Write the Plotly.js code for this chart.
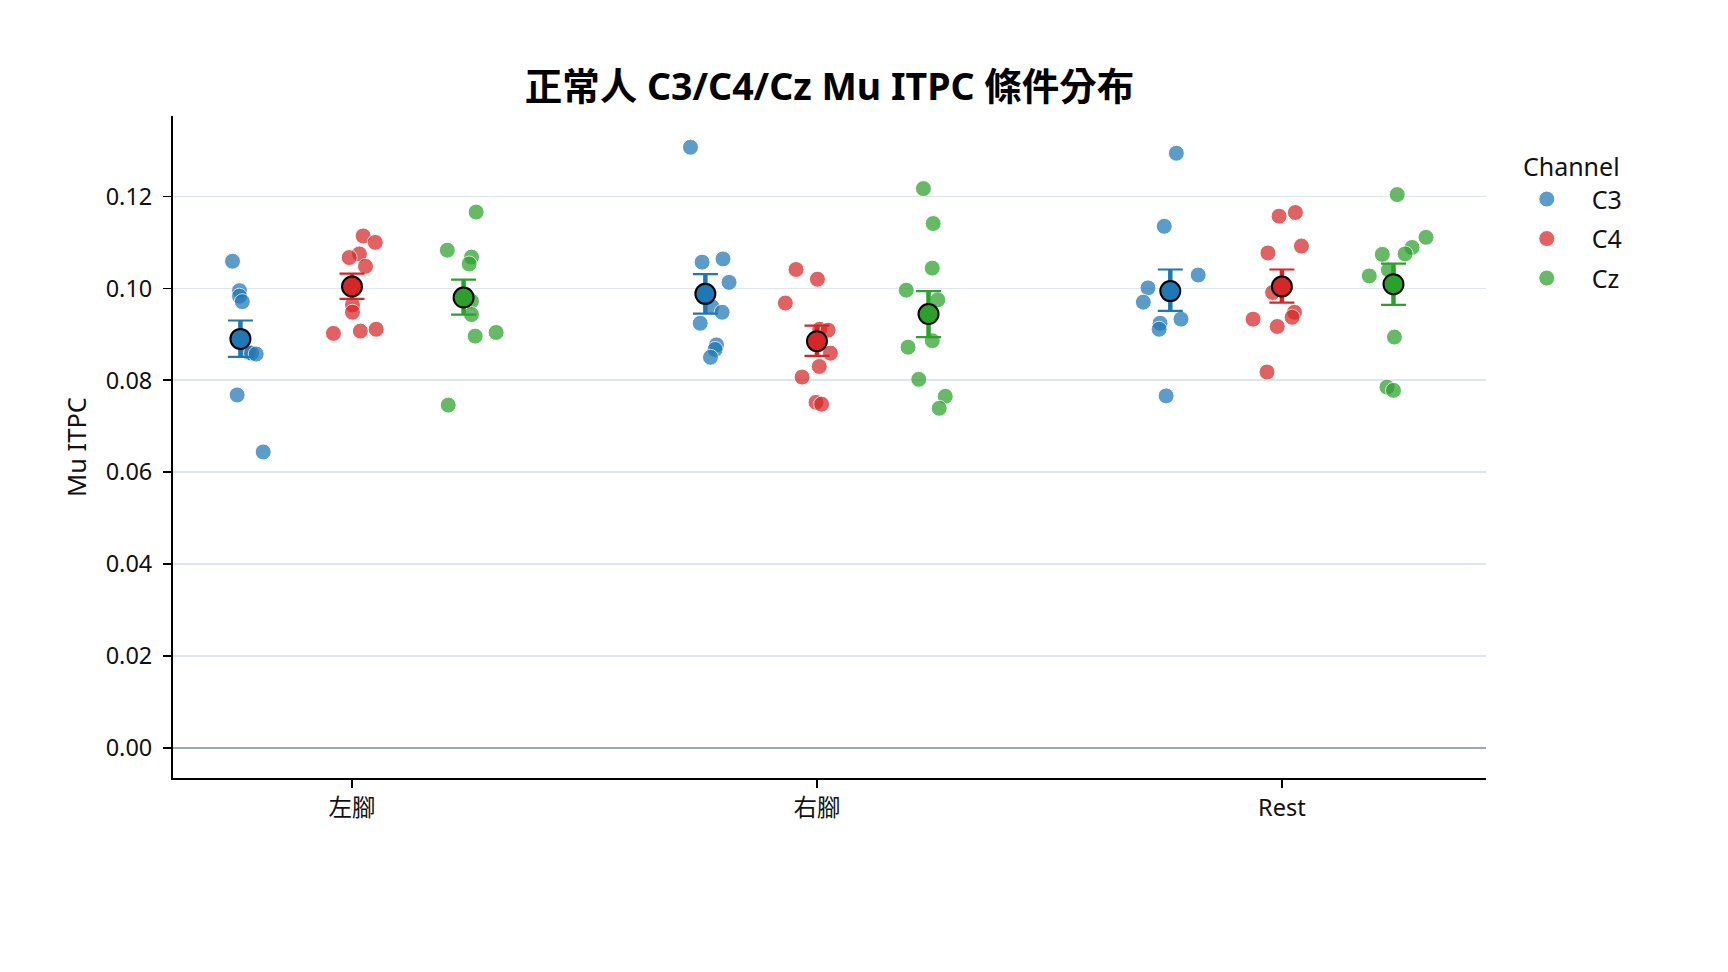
<!DOCTYPE html>
<html>
<head>
<meta charset="utf-8">
<script src="https://cdn.plot.ly/plotly-3.0.1.min.js"></script>
<style>
  html, body { margin: 0; padding: 0; background: #fff; }
  #plot { width: 1728px; height: 972px; }
</style>
</head>
<body>
<div id="plot"></div>
<script>
// categories
const conditions = ['左腳', '右腳', 'Rest'];
const channels = ['C3', 'C4', 'Cz'];

// per-subject values
const c3Left = [0.1059, 0.0995, 0.0983, 0.0971, 0.0861, 0.0859, 0.0857, 0.0768, 0.0644];
const c4Left = [0.1114, 0.1100, 0.1075, 0.1067, 0.1048, 0.0964, 0.0948, 0.0902, 0.0907, 0.0911];
const czLeft = [0.1166, 0.1083, 0.1068, 0.1053, 0.0972, 0.0943, 0.0896, 0.0904, 0.0746];

const c3Right = [0.1307, 0.1057, 0.1064, 0.1013, 0.0960, 0.0948, 0.0924, 0.0877, 0.0867, 0.0850];
const c4Right = [0.1041, 0.1020, 0.0968, 0.0911, 0.0909, 0.0859, 0.0830, 0.0807, 0.0752, 0.0748];
const czRight = [0.1217, 0.1141, 0.1044, 0.0996, 0.0975, 0.0886, 0.0872, 0.0802, 0.0765, 0.0739];

const c3Rest = [0.1294, 0.1135, 0.1029, 0.1001, 0.0970, 0.0933, 0.0924, 0.0911, 0.0766];
const c4Rest = [0.1157, 0.1165, 0.1092, 0.1077, 0.0991, 0.0948, 0.0937, 0.0933, 0.0917, 0.0818];
const czRest = [0.1204, 0.1111, 0.1089, 0.1075, 0.1074, 0.1040, 0.1027, 0.0894, 0.0785, 0.0778];

// horizontal jitter of each strip point (category units), as seen in the picture
const c3LeftJit = [-0.017, -0.002, -0.002, 0.004, 0.017, 0.024, 0.034, -0.007, 0.049];
const c4LeftJit = [0.024, 0.050, 0.016, -0.006, 0.029, 0.001, 0.001, -0.040, 0.018, 0.052];
const czLeftJit = [0.027, -0.035, 0.017, 0.012, 0.017, 0.017, 0.025, 0.070, -0.033];

const c3RightJit = [-0.032, -0.007, 0.038, 0.051, 0.014, 0.036, -0.011, 0.024, 0.021, 0.011];
const c4RightJit = [-0.045, 0.001, -0.068, 0.006, 0.024, 0.029, 0.005, -0.032, -0.002, 0.010];
const czRightJit = [-0.011, 0.010, 0.008, -0.048, 0.020, 0.008, -0.044, -0.021, 0.036, 0.023];

const c3RestJit = [0.013, -0.013, 0.060, -0.048, -0.058, 0.023, -0.022, -0.024, -0.009];
const c4RestJit = [-0.006, 0.029, 0.042, -0.030, -0.020, 0.027, 0.022, -0.062, -0.010, -0.032];
const czRestJit = [0.008, 0.070, 0.040, 0.025, -0.024, -0.011, -0.052, 0.002, -0.014, 0.000];

// group means and error bar ends (per condition)
const c3Mean = [0.0890, 0.0988, 0.0994];
const c4Mean = [0.1004, 0.0885, 0.1004];
const czMean = [0.0980, 0.0944, 0.1009];

const c3Upper = [0.0930, 0.1031, 0.1041];
const c3Lower = [0.0851, 0.0945, 0.0951];
const c4Upper = [0.1032, 0.0919, 0.1041];
const c4Lower = [0.0977, 0.0853, 0.0969];
const czUpper = [0.1019, 0.0994, 0.1054];
const czLower = [0.0943, 0.0894, 0.0964];

const colors = { C3: '#1f77b4', C4: '#d62728', Cz: '#2ca02c' };
const dodge = { C3: -0.24, C4: 0, Cz: 0.24 };

const stripValues = {
    C3: [c3Left, c3Right, c3Rest],
    C4: [c4Left, c4Right, c4Rest],
    Cz: [czLeft, czRight, czRest]
};
const stripJitter = {
    C3: [c3LeftJit, c3RightJit, c3RestJit],
    C4: [c4LeftJit, c4RightJit, c4RestJit],
    Cz: [czLeftJit, czRightJit, czRestJit]
};
const means = { C3: c3Mean, C4: c4Mean, Cz: czMean };
const uppers = { C3: c3Upper, C4: c4Upper, Cz: czUpper };
const lowers = { C3: c3Lower, C4: c4Lower, Cz: czLower };

const FONT = '"Noto Sans", "Noto Sans CJK TC", sans-serif';

function stripTrace(ch) {
    let x = [];
    let y = [];
    for (let c = 0;c < conditions.length;c++) {
        let vals = stripValues[ch][c];
        let jit = stripJitter[ch][c];
        for (let i = 0;i < vals.length;i++) {
            x.push(c + dodge[ch] + jit[i]);
            y.push(vals[i]);
        }
    }
    return {
        x: x,
        y: y,
        type: 'scatter',
        mode: 'markers',
        name: ch,
        legendgroup: ch,
        marker: {
            color: colors[ch],
            size: 16,
            opacity: 0.72,
            line: { color: '#ffffff', width: 1 }
        },
        hoverinfo: 'y'
    };
}

function errorSpec(ch, thickness, width) {
    let m = means[ch];
    return {
        type: 'data',
        symmetric: false,
        array: uppers[ch].map((u, i) => u - m[i]),
        arrayminus: lowers[ch].map((l, i) => m[i] - l),
        color: colors[ch],
        thickness: thickness,
        width: width
    };
}

// thick stem of the error bar (seaborn draws the bar thicker than the caps)
function stemTrace(ch) {
    return {
        x: conditions.map((_, c) => c + dodge[ch]),
        y: means[ch],
        type: 'scatter',
        mode: 'markers',
        legendgroup: ch,
        showlegend: false,
        marker: { size: 1, opacity: 0 },
        error_y: errorSpec(ch, 4.5, 0),
        hoverinfo: 'skip'
    };
}

function meanTrace(ch) {
    return {
        x: conditions.map((_, c) => c + dodge[ch]),
        y: means[ch],
        type: 'scatter',
        mode: 'markers',
        name: ch + ' mean',
        legendgroup: ch,
        showlegend: false,
        marker: {
            color: colors[ch],
            size: 20,
            line: { color: '#000000', width: 2 }
        },
        error_y: errorSpec(ch, 2.2, 12.5)
    };
}

let traces = [];
for (let ch of channels) traces.push(stripTrace(ch));
for (let ch of channels) {
    traces.push(stemTrace(ch));
    traces.push(meanTrace(ch));
}

let layout = {
    width: 1728,
    height: 972,
    paper_bgcolor: '#ffffff',
    plot_bgcolor: '#ffffff',
    margin: { l: 173, r: 242, t: 116, b: 194, pad: 0 },
    font: { family: FONT, size: 23, color: '#111111' },
    title: {
        text: '<b>正常人 C3/C4/Cz Mu ITPC 條件分布</b>',
        font: { family: FONT, size: 37.5, color: '#000000' },
        x: 0.5,
        xref: 'paper',
        xanchor: 'center',
        y: 1 - 87 / 972,
        yref: 'container',
        yanchor: 'middle'
    },
    xaxis: {
        range: [-0.385, 2.439],
        tickmode: 'array',
        tickvals: [0, 1, 2],
        ticktext: conditions,
        showgrid: false,
        zeroline: false,
        showline: true,
        linecolor: '#000000',
        linewidth: 2,
        ticks: 'outside',
        ticklen: 8,
        tickwidth: 1.6,
        tickcolor: '#000000',
        tickfont: { family: FONT, size: 23.5, color: '#111111' },
        fixedrange: true
    },
    yaxis: {
        range: [-0.00654, 0.1375],
        tickmode: 'linear',
        tick0: 0,
        dtick: 0.02,
        tickformat: '.2f',
        showgrid: true,
        gridcolor: '#dde5ee',
        gridwidth: 1.6,
        zeroline: true,
        zerolinecolor: '#9aa6ba',
        zerolinewidth: 2,
        showline: true,
        linecolor: '#000000',
        linewidth: 2,
        ticks: 'outside',
        ticklen: 8,
        tickwidth: 1.6,
        tickcolor: '#000000',
        ticklabelstandoff: 6,
        tickfont: { family: FONT, size: 23.5, color: '#111111' },
        title: {
            text: 'Mu ITPC',
            font: { family: FONT, size: 25.5, color: '#111111' },
            standoff: 12
        },
        fixedrange: true
    },
    showlegend: true,
    legend: {
        title: {
            text: '\u00a0\u00a0Channel',
            side: 'top center',
            font: { family: FONT, size: 25, color: '#111111' }
        },
        font: { family: FONT, size: 25, color: '#111111' },
        x: 1.012,
        xanchor: 'left',
        y: 0.958,
        yanchor: 'top',
        traceorder: 'grouped',
        tracegroupgap: 4,
        itemwidth: 80,
        bgcolor: 'rgba(0,0,0,0)',
        borderwidth: 0
    }
};

Plotly.newPlot('plot', traces, layout, { displayModeBar: false, staticPlot: true });
</script>
</body>
</html>
